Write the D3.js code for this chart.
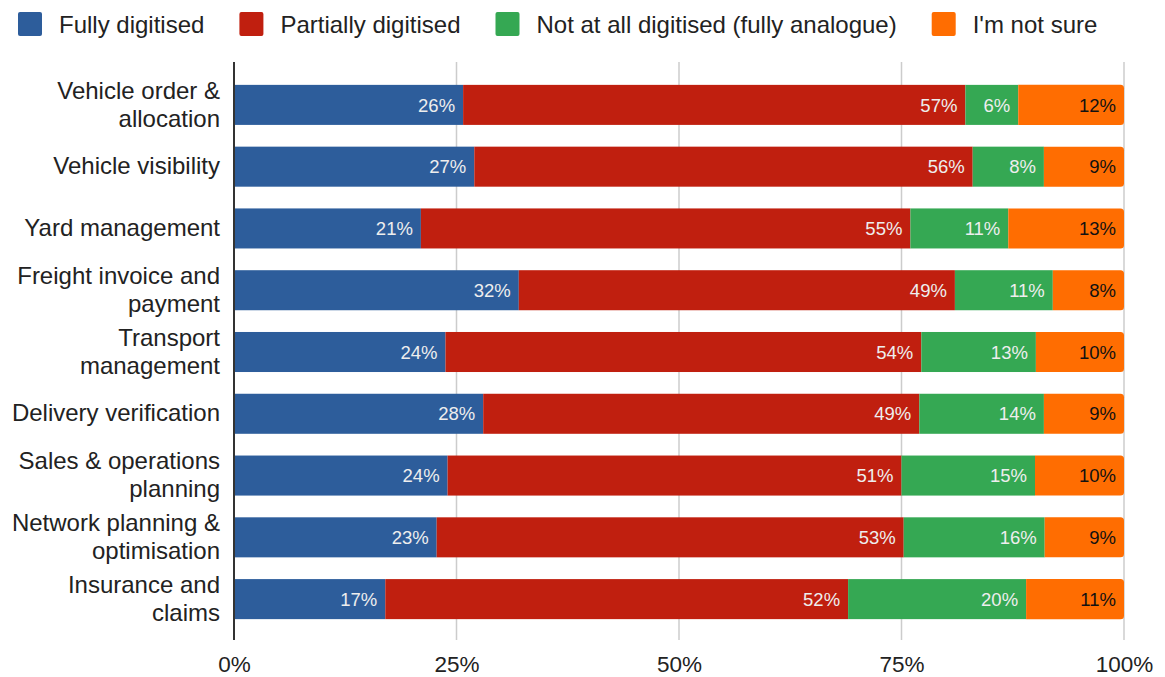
<!DOCTYPE html>
<html>
<head>
<meta charset="utf-8">
<script src="https://cdn.jsdelivr.net/npm/d3@7"></script>
<style>
  html, body { margin: 0; padding: 0; background: #fff; }
  svg { display: block; font-family: "Liberation Sans", Arial, sans-serif; }
</style>
</head>
<body>
<svg id="chart" width="1165" height="677"></svg>
<script>
// Survey: how digitised each logistics process is (share of respondents, %)
const categories = [
  "Vehicle order & allocation",
  "Vehicle visibility",
  "Yard management",
  "Freight invoice and payment",
  "Transport management",
  "Delivery verification",
  "Sales & operations planning",
  "Network planning & optimisation",
  "Insurance and claims"
];
const seriesNames = [
  "Fully digitised",
  "Partially digitised",
  "Not at all digitised (fully analogue)",
  "I'm not sure"
];
const fully     = [26, 27, 21, 32, 24, 28, 24, 23, 17];
const partially = [57, 56, 55, 49, 54, 49, 51, 53, 52];
const notAtAll  = [ 6,  8, 11, 11, 13, 14, 15, 16, 20];
const notSure   = [12,  9, 13,  8, 10,  9, 10,  9, 11];
const tickValues = [0, 0.25, 0.5, 0.75, 1];
const tickLabels = ["0%", "25%", "50%", "75%", "100%"];

const colors = ["#2d5d9b", "#c01f0f", "#35a853", "#ff6d01"];
const labelColors = ["#eeeeee", "#eeeeee", "#eeeeee", "#111111"];

const keys = ["fully", "partially", "notAtAll", "notSure"];
const rows = categories.map((c, i) => ({
  category: c,
  fully: fully[i], partially: partially[i], notAtAll: notAtAll[i], notSure: notSure[i]
}));

const svg = d3.select("#chart");
const left = 234, right = 1124;
const plotTop = 62, plotBottom = 640;

const x = d3.scaleLinear().domain([0, 1]).range([left, right]);
const y = d3.scaleBand().domain(categories).range([74, 630]).paddingInner(0.352).paddingOuter(0.176);

const stacked = d3.stack().keys(keys).offset(d3.stackOffsetExpand)(rows);

// gridlines
svg.append("g").selectAll("line")
  .data(tickValues.slice(1))
  .join("line")
  .attr("x1", d => x(d)).attr("x2", d => x(d))
  .attr("y1", plotTop).attr("y2", plotBottom)
  .attr("stroke", "#cccccc").attr("stroke-width", 1.5);

// bars
const r = 3.5;
stacked.forEach((layer, li) => {
  const g = svg.append("g");
  layer.forEach((d, i) => {
    const x0 = x(d[0]), x1 = x(d[1]);
    const yt = y(categories[i]), h = y.bandwidth();
    if (li === keys.length - 1) {
      g.append("path")
        .attr("d", `M${x0},${yt}H${x1 - r}Q${x1},${yt} ${x1},${yt + r}V${yt + h - r}Q${x1},${yt + h} ${x1 - r},${yt + h}H${x0}Z`)
        .attr("fill", colors[li]);
    } else {
      g.append("rect")
        .attr("x", x0).attr("y", yt).attr("width", x1 - x0).attr("height", h)
        .attr("fill", colors[li]);
    }
    g.append("text")
      .attr("x", x1 - 8)
      .attr("y", yt + h / 2)
      .attr("dy", "0.36em")
      .attr("text-anchor", "end")
      .attr("font-size", 18.5)
      .attr("fill", labelColors[li])
      .text(rows[i][keys[li]] + "%");
  });
});

// left axis line
svg.append("line")
  .attr("x1", left).attr("x2", left)
  .attr("y1", plotTop).attr("y2", plotBottom)
  .attr("stroke", "#333333").attr("stroke-width", 2);

// x axis tick labels
const xAxis = d3.axisBottom(x).tickValues(tickValues)
  .tickFormat((d, i) => tickLabels[i]).tickSize(0).tickPadding(0);
const gx = svg.append("g").attr("transform", `translate(0,${plotBottom})`).call(xAxis);
gx.select(".domain").remove();
gx.selectAll("text")
  .attr("y", 0).attr("dy", 0)
  .attr("transform", "translate(0,32)")
  .attr("font-size", 22.5).attr("fill", "#222222")
  .attr("font-family", "Liberation Sans, Arial, sans-serif");

// category labels, wrapped to the margin width
const labelSize = 24;
const maxLabelWidth = 216;
const measurer = svg.append("text").attr("font-size", labelSize).attr("visibility", "hidden");
function textWidth(s) { measurer.text(s); return measurer.node().getComputedTextLength(); }
function wrap(str) {
  const words = str.split(" ");
  const lines = [];
  let cur = "";
  words.forEach(w => {
    const trial = cur ? cur + " " + w : w;
    if (cur && textWidth(trial) > maxLabelWidth) { lines.push(cur); cur = w; }
    else cur = trial;
  });
  lines.push(cur);
  return lines;
}
const lineH = 28;
categories.forEach(c => {
  const lines = wrap(c);
  const cy = y(c) + y.bandwidth() / 2 - 1;
  const t = svg.append("text")
    .attr("text-anchor", "end")
    .attr("font-size", labelSize)
    .attr("fill", "#222222");
  lines.forEach((ln, k) => {
    t.append("tspan")
      .attr("x", 220)
      .attr("y", cy + (k - (lines.length - 1) / 2) * lineH)
      .attr("dy", "0.36em")
      .text(ln);
  });
});

// legend
const legend = svg.append("g");
let lx = 18;
seriesNames.forEach((name, i) => {
  legend.append("rect")
    .attr("x", lx).attr("y", 12).attr("width", 24).attr("height", 24)
    .attr("rx", 2).attr("fill", colors[i]);
  legend.append("text")
    .attr("x", lx + 41).attr("y", 33)
    .attr("font-size", labelSize).attr("fill", "#222222")
    .text(name);
  lx += 41 + textWidth(name) + 35;
});
measurer.remove();
</script>
</body>
</html>
